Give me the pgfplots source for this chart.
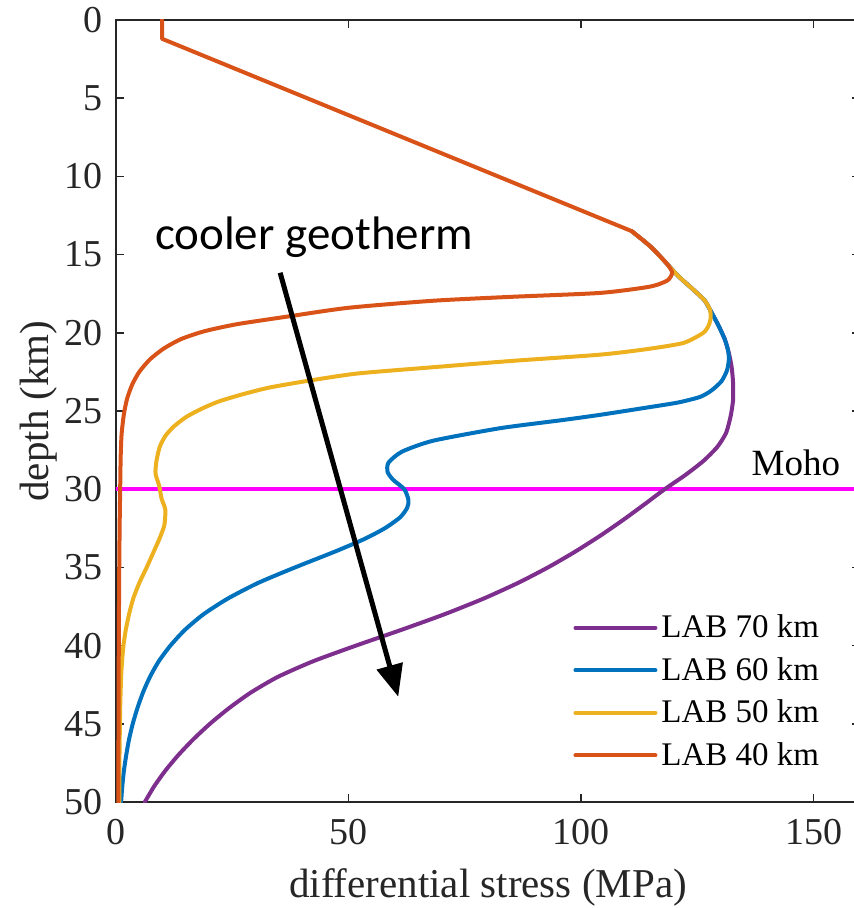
\documentclass[border=0pt]{standalone}
\usepackage{pgfplots}
\pgfplotsset{compat=1.18}
\usepackage{fontspec}
\setmainfont{Liberation Serif}
\newfontfamily\calib{Carlito}
\usetikzlibrary{arrows.meta}
\definecolor{mpurple}{RGB}{126,47,142}
\definecolor{mblue}{RGB}{0,114,189}
\definecolor{myellow}{RGB}{237,177,32}
\definecolor{morange}{RGB}{217,83,25}
\definecolor{mmag}{RGB}{255,0,255}
\definecolor{axgray}{RGB}{38,38,38}
\begin{document}
\begin{tikzpicture}
\begin{axis}[
  scale only axis,
  width=372pt, height=391pt,
  xmin=0, xmax=160, ymin=0, ymax=50,
  y dir=reverse,
  xtick={0,50,100,150},
  ytick={0,5,...,50},
  tick align=inside,
  major tick length=4pt,
  axis line style={axgray, line width=0.7pt},
  every tick/.style={axgray, line width=0.7pt},
  /pgf/number format/assume math mode=true,
  tick label style={font=\fontsize{19}{22}\selectfont, text=axgray},
  xticklabel style={yshift=-5pt},
  yticklabel style={xshift=-3pt},
  xlabel={differential stress (MPa)},
  ylabel={depth (km)},
  label style={font=\fontsize{20.5}{24}\selectfont, text=axgray},
  xlabel style={yshift=-5pt},
  ylabel style={at={(axis description cs:-0.079,0.5)}, anchor=south, inner sep=0pt, rotate=0},
  legend style={draw=none, fill=none, at={(axis cs:97,37.5)}, anchor=north west,
    font=\fontsize{16.5}{19}\selectfont, row sep=4.3pt},
  legend cell align=left,
  legend image code/.code={\draw[#1, line width=2pt] (0pt,0pt) -- (40pt,0pt);},
  clip=true,
  every axis plot/.append style={line join=round, line cap=round},
]
\addplot[mmag, line width=2pt, forget plot] coordinates {(0,30) (160,30)};

% LAB 70 km
\addplot[mpurple, line width=2pt, smooth, tension=0.4] coordinates {
(110.9,13.5) (115,14.5) (118.4,15.56) (121,16.4) (124,17.2) (126.5,17.9) (127.7,18.5)
(129.5,19.5) (130.9,20.4) (131.8,21.3) (132.4,22.2) (132.7,23.2) (132.7,24.3) (132.2,25.3)
(131.2,26.4) (129.3,27.3) (126.3,28.2) (122.4,29.1) (118.0,30.0) (113.5,31.0) (108.9,32.0)
(104.0,33.0) (98.7,34.0) (92.9,35.0) (86.4,36.0) (79.0,37.0) (70.6,38.0) (61.3,39.0)
(51.6,40.0) (42.4,41.0) (34.8,42.0) (29.0,43.0) (24.3,44.0) (20.2,45.0) (16.6,46.0)
(13.4,47.0) (10.6,48.0) (8.2,49.0) (6.2,50)
};
\addlegendentry{LAB 70 km}

% LAB 60 km
\addplot[mblue, line width=2pt, smooth, tension=0.4] coordinates {
(110.9,13.5) (115,14.5) (118.4,15.56) (121,16.4) (124,17.2) (126.5,17.9) (127.7,18.5)
(129.5,19.5) (130.9,20.4) (131.6,21.1) (131.8,21.7) (131.4,22.4) (130.2,23.1) (128,23.7)
(125.6,24.1) (121,24.45) (114.8,24.75) (104,25.25) (95.5,25.6) (82.6,26.1) (68.2,26.9)
(61.5,27.6) (58.6,28.3) (58.4,28.9) (59.6,29.4) (62,30.0) (62.9,30.7) (62.6,31.2) (61.1,31.8)
(57.8,32.5) (53.3,33.2) (47,34) (38.5,35) (30.5,36) (24,37) (18.8,38) (14.8,39) (11.7,40)
(9.2,41) (7.3,42) (5.8,43) (4.6,44) (3.6,45) (2.8,46) (2.2,47) (1.7,48) (1.35,49) (1.1,50)
};
\addlegendentry{LAB 60 km}

% LAB 50 km
\addplot[myellow, line width=2pt, smooth, tension=0.4] coordinates {
(110.9,13.5) (115,14.5) (118.4,15.56) (121,16.4) (124,17.2) (126.5,17.9)
(127.7,18.5) (127.9,19.0) (127.5,19.5) (126.3,20.0) (122,20.65) (114,21.05) (104,21.4)
(85,21.8) (68.2,22.2) (52,22.6) (41.7,23.05) (33,23.5) (27,23.95) (22,24.4) (18.1,24.9)
(15,25.4) (12.4,26.0) (10.6,26.6) (9.4,27.3) (8.7,28.2) (8.5,29.0) (9.3,29.8) (9.8,30.6)
(10.6,31.3) (10.4,32.3) (9.3,33.2) (8.1,34) (6.6,35) (5,36) (3.7,37) (2.8,38) (2.1,39)
(1.6,40) (1.3,41) (1.1,42) (0.9,44) (0.75,47) (0.7,50)
};
\addlegendentry{LAB 50 km}

% LAB 40 km
\addplot[morange, line width=2pt, smooth, tension=0.4] coordinates {
(110.9,13.5) (115,14.5) (118.4,15.56) (119.6,16.15) (118.6,16.65)
(114.8,17.05) (104.1,17.45) (85,17.7) (68.2,17.95) (50,18.4) (36.7,18.97) (26,19.45)
(19,19.9) (14,20.4) (10.3,21.0) (7.3,21.7) (5,22.5) (3.5,23.3) (2.4,24.2) (1.7,25.2)
(1.2,26.5) (1.0,28) (0.9,30) (0.8,32) (0.7,35) (0.6,40) (0.5,50)
};
\addlegendentry{LAB 40 km}

% shared upper-crust segment (all curves coincide here)
\addplot[morange, line width=2pt, forget plot] coordinates {
(9.9,0) (9.9,1.2) (110.9,13.5)
};

\draw[black, line width=2.5pt, -{Triangle[width=13pt,length=16pt]}] (axis cs:35.3,16.16) -- (axis cs:60.7,43.27);
\node[anchor=base, font=\calib\fontsize{23.5}{27}\selectfont, inner sep=0pt] at (axis cs:42.6,14.7) {cooler geotherm};
\node[anchor=base, font=\fontsize{18.5}{22}\selectfont, inner sep=0pt] at (axis cs:146.2,29.1) {Moho};

\coordinate (BL) at (axis cs:0,50);
\coordinate (TR) at (axis cs:158.5,0);
\end{axis}
\pgfresetboundingbox
\path ([xshift=-58pt,yshift=-53pt]BL) rectangle ([yshift=10pt]TR);
\end{tikzpicture}
\end{document}
